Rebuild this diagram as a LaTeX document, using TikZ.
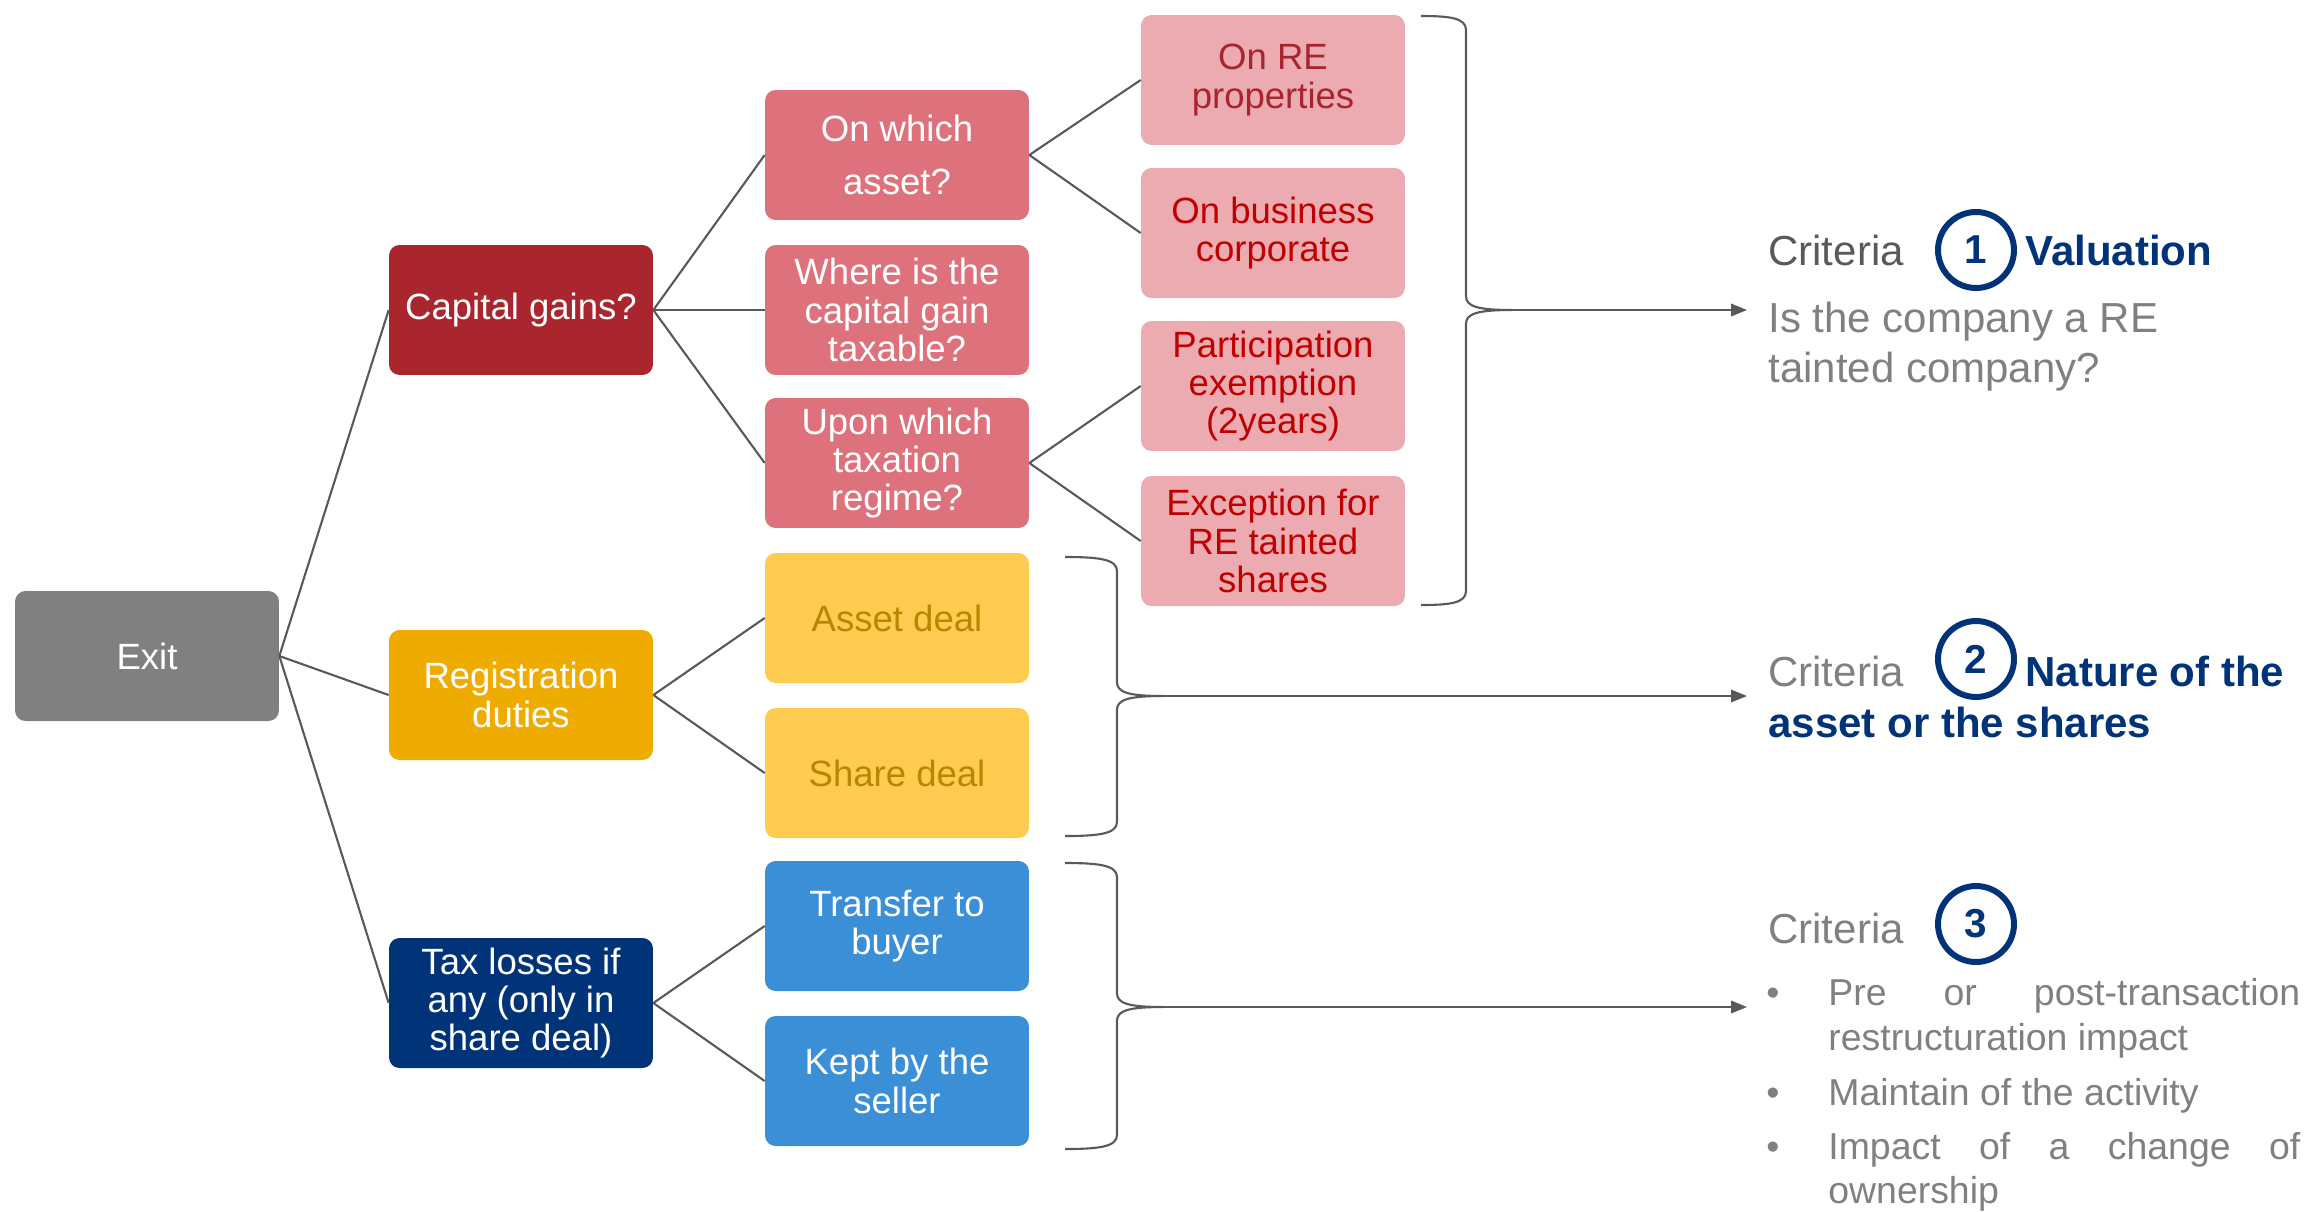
\documentclass[tikz,border=0pt]{standalone}
\usepackage{fontspec}
\setmainfont{Liberation Sans}
\usetikzlibrary{arrows.meta}

\definecolor{exitgray}{RGB}{128,128,128}
\definecolor{capred}{RGB}{169,38,46}
\definecolor{qred}{RGB}{222,114,124}
\definecolor{pinkbox}{RGB}{236,171,176}
\definecolor{maroontext}{RGB}{168,36,46}
\definecolor{redtext}{RGB}{192,0,0}
\definecolor{regorange}{RGB}{238,172,0}
\definecolor{dealyellow}{RGB}{255,204,82}
\definecolor{dealtext}{RGB}{184,134,0}
\definecolor{navy}{RGB}{0,51,120}
\definecolor{skyblue}{RGB}{58,143,214}
\definecolor{linegray}{RGB}{89,89,89}
\definecolor{textgray}{RGB}{128,128,128}
\definecolor{darkgray}{RGB}{89,89,89}

\tikzset{
  box/.style={rounded corners=6pt, minimum width=5.28cm, minimum height=2.6cm,
    inner sep=0pt, align=center, text=white,
    font=\fontsize{20.8}{21.8}\selectfont},
  conn/.style={draw=linegray, line width=1.2pt},
  arr/.style={conn, -{Triangle[length=9pt,width=7pt]}},
  crit/.style={inner sep=0pt, anchor=base west,
    font=\fontsize{23.9}{28.8}\selectfont},
  critbold/.style={crit, text=navy, font=\fontsize{23.9}{28.8}\selectfont\bfseries},
  numcirc/.style={circle, draw=navy, line width=3.4pt, minimum size=1.52cm,
    inner sep=0pt, text=navy, font=\fontsize{23}{26}\selectfont\bfseries},
  bul/.style={inner sep=0pt, anchor=base west, text=textgray,
    font=\fontsize{21.3}{25}\selectfont}
}

\begin{document}
\begin{tikzpicture}[x=0.02cm, y=-0.02cm]
\useasboundingbox (0,0) rectangle (2312,1211);

% root
\node[box, fill=exitgray] (exit) at (147,656) {Exit};

% first level
\node[box, fill=capred] (cap) at (521,310) {Capital gains?};
\node[box, fill=regorange] (reg) at (521,695) {Registration\\duties};
\node[box, fill=navy] (tax) at (521,1003) {Tax losses if\\any (only in\\share deal)};

% second level
\node[box, fill=qred, font=\fontsize{20.8}{30.2}\selectfont] (which) at (897,155) {On which\\asset?};
\node[box, fill=qred] (where) at (897,310) {Where is the\\capital gain\\taxable?};
\node[box, fill=qred] (upon) at (897,463) {Upon which\\taxation\\regime?};
\node[box, fill=dealyellow, text=dealtext] (asset) at (897,618) {Asset deal};
\node[box, fill=dealyellow, text=dealtext] (share) at (897,773) {Share deal};
\node[box, fill=skyblue] (transfer) at (897,926) {Transfer to\\buyer};
\node[box, fill=skyblue] (kept) at (897,1081) {Kept by the\\seller};

% third level
\node[box, fill=pinkbox, text=maroontext] (onre) at (1273,80) {On RE\\properties};
\node[box, fill=pinkbox, text=redtext] (onbus) at (1273,233) {On business\\corporate};
\node[box, fill=pinkbox, text=redtext] (partic) at (1273,386) {Participation\\exemption\\(2years)};
\node[box, fill=pinkbox, text=redtext] (except) at (1273,541) {Exception for\\RE tainted\\shares};

% tree connectors
\draw[conn] (exit.east) -- (cap.west);
\draw[conn] (exit.east) -- (reg.west);
\draw[conn] (exit.east) -- (tax.west);
\draw[conn] (cap.east) -- (which.west);
\draw[conn] (cap.east) -- (where.west);
\draw[conn] (cap.east) -- (upon.west);
\draw[conn] (reg.east) -- (asset.west);
\draw[conn] (reg.east) -- (share.west);
\draw[conn] (tax.east) -- (transfer.west);
\draw[conn] (tax.east) -- (kept.west);
\draw[conn] (which.east) -- (onre.west);
\draw[conn] (which.east) -- (onbus.west);
\draw[conn] (upon.east) -- (partic.west);
\draw[conn] (upon.east) -- (except.west);

% braces
\coordinate (tip1) at (1512,310);
\coordinate (tip2) at (1163,696);
\coordinate (tip3) at (1163,1007);
\draw[conn] (1421,16) .. controls (1450,16) and (1466,18) .. (1466,30)
  -- (1466,296) .. controls (1466,306) and (1476,310) .. (tip1)
  .. controls (1476,310) and (1466,314) .. (1466,324)
  -- (1466,591) .. controls (1466,603) and (1450,605) .. (1421,605);
\draw[conn] (1065,557) .. controls (1098,557) and (1117,559) .. (1117,571)
  -- (1117,682) .. controls (1117,692) and (1127,696) .. (tip2)
  .. controls (1127,696) and (1117,700) .. (1117,710)
  -- (1117,822) .. controls (1117,834) and (1098,836) .. (1065,836);
\draw[conn] (1065,863) .. controls (1098,863) and (1117,865) .. (1117,877)
  -- (1117,993) .. controls (1117,1003) and (1127,1007) .. (tip3)
  .. controls (1127,1007) and (1117,1011) .. (1117,1021)
  -- (1117,1135) .. controls (1117,1147) and (1098,1149) .. (1065,1149);

% arrows to the criteria
\coordinate (end1) at (1747,310);
\coordinate (end2) at (1747,696);
\coordinate (end3) at (1747,1007);
\draw[arr] (tip1) -- (end1);
\draw[arr] (tip2) -- (end2);
\draw[arr] (tip3) -- (end3);

% criterion 1
\node[crit, text=darkgray] (crit1) at (1768,265) {Criteria};
\node[numcirc] (num1) at (1976,250) {1};
\node[critbold] (val) at (2025,265) {Valuation};
\node[crit, text=textgray] (desc1a) at (1768,332) {Is the company a RE};
\node[crit, text=textgray] (desc1b) at (1768,382) {tainted company?};

% criterion 2
\node[crit, text=textgray] (crit2) at (1768,686) {Criteria};
\node[numcirc] (num2) at (1976,659) {2};
\node[critbold] (nat) at (2025,686) {Nature of the};
\node[critbold] (nat2) at (1768,737) {asset or the shares};

% criterion 3
\node[crit, text=textgray] (crit3) at (1768,943) {Criteria};
\node[numcirc] (num3) at (1976,924) {3};

% list under criterion 3
\node[bul] (dot1) at (1766,1005) {•};
\node[bul] (l1a) at (1828,1005) {\hbox to 9.44cm{Pre\hfill or\hfill post-transaction}};
\node[bul] (l1b) at (1828,1050) {restructuration impact};
\node[bul] (dot2) at (1766,1105) {•};
\node[bul] (l2) at (1828,1105) {Maintain of the activity};
\node[bul] (dot3) at (1766,1159) {•};
\node[bul] (l3a) at (1828,1159) {\hbox to 9.44cm{Impact\hfill of\hfill a\hfill change\hfill of}};
\node[bul] (l3b) at (1828,1203) {ownership};
\end{tikzpicture}
\end{document}
